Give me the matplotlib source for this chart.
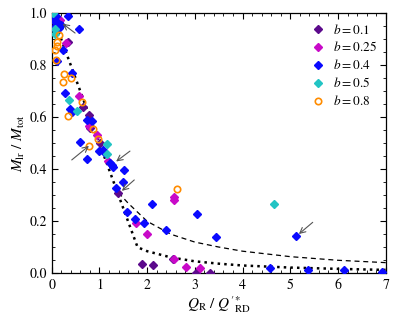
import numpy as np
import matplotlib
matplotlib.use('Agg')
import matplotlib.pyplot as plt
from matplotlib.ticker import MultipleLocator

plt.rcParams['font.family'] = 'STIXGeneral'
plt.rcParams['mathtext.fontset'] = 'stix'
plt.rcParams['font.size'] = 8

# data: (Q_R / Q'*_RD, M_lr / M_tot)
b01_x = [0.15, 0.35, 0.66, 0.79, 0.80, 1.01, 1.38, 1.89, 2.13, 2.55, 3.02, 3.32]
b01_y = [0.965, 0.89, 0.64, 0.61, 0.56, 0.50, 0.308, 0.036, 0.032, 0.054, 0.0, 0.0]

b025_x = [0.17, 0.30, 0.58, 0.79, 0.94, 1.19, 1.76, 2.00, 2.56, 2.56, 2.57, 2.82, 3.10]
b025_y = [0.975, 0.885, 0.68, 0.566, 0.53, 0.43, 0.195, 0.15, 0.295, 0.282, 0.056, 0.023, 0.019]

b04_x = [0.02, 0.05, 0.08, 0.10, 0.12, 0.04, 0.15, 0.19, 0.34, 0.58, 0.23, 0.12,
         0.42, 0.28, 0.38, 0.42, 0.73, 0.84, 0.59, 0.75, 1.00, 1.08, 1.12, 1.22,
         1.26, 1.29, 1.52, 1.50, 1.35, 1.57, 1.75, 1.93, 2.11, 2.39, 3.04, 3.44,
         5.12, 4.58, 5.38, 6.13, 6.92]
b04_y = [0.985, 0.97, 0.99, 0.95, 0.965, 0.945, 0.945, 0.955, 0.99, 0.94, 0.86, 0.815,
         0.77, 0.695, 0.63, 0.62, 0.59, 0.586, 0.506, 0.44, 0.47, 0.474, 0.462, 0.423,
         0.417, 0.41, 0.397, 0.352, 0.327, 0.235, 0.208, 0.195, 0.267, 0.167, 0.228, 0.141,
         0.143, 0.019, 0.013, 0.013, 0.006]

b05_x = [0.03, 0.07, 0.06, 0.36, 0.52, 1.15, 1.15, 4.66]
b05_y = [1.0, 0.94, 0.92, 0.666, 0.625, 0.497, 0.46, 0.265]

b08_x = [0.07, 0.12, 0.11, 0.16, 0.09, 0.26, 0.24, 0.40, 0.35, 0.64, 0.87, 0.98, 0.78, 2.62]
b08_y = [0.86, 0.89, 0.875, 0.915, 0.82, 0.765, 0.735, 0.75, 0.605, 0.66, 0.554, 0.515, 0.49, 0.323]

# model curves
dot_x = [0.0, 0.5, 1.0, 1.5, 1.8, 2.0, 2.5, 3.0, 3.5, 4.0, 5.0, 6.0, 7.0]
dot_y = [1.0, 0.75, 0.5, 0.25, 0.1, 0.085, 0.061, 0.046, 0.037, 0.030, 0.022, 0.017, 0.013]
dash_x = [1.4, 1.6, 2.0, 2.5, 3.0, 3.5, 4.0, 5.0, 6.0, 7.0]
dash_y = [0.31, 0.27, 0.20, 0.15, 0.12, 0.101, 0.085, 0.064, 0.05, 0.041]

# arrows: (head x, head y, tail x, tail y)
arrows = [(0.23, 0.96, 0.49, 0.924),
          (0.78, 0.49, 0.42, 0.436),
          (1.35, 0.43, 1.64, 0.47),
          (1.47, 0.317, 1.73, 0.359),
          (5.18, 0.151, 5.47, 0.196)]

fig = plt.figure(figsize=(3.99, 3.19), dpi=100)
ax = fig.add_axes([0.1296, 0.1433, 0.8371, 0.8150])

ax.plot(dot_x, dot_y, ':', color='k', lw=1.8, zorder=1)
ax.plot(dash_x, dash_y, '--', color='k', lw=0.9, dashes=(4, 3), zorder=1)

ms = 4.3
ax.plot(b01_x, b01_y, 'D', color='#5c0a8c', ms=ms, ls='none', label=r'$b = 0.1$', zorder=3)
ax.plot(b025_x, b025_y, 'D', color='#c80ac8', ms=ms, ls='none', label=r'$b = 0.25$', zorder=3)
ax.plot(b04_x, b04_y, 'D', color='#0a0aff', ms=ms, ls='none', label=r'$b = 0.4$', zorder=3)
ax.plot(b05_x, b05_y, 'D', color='#22c4c4', ms=ms, ls='none', label=r'$b = 0.5$', zorder=3)
ax.plot(b08_x, b08_y, 'o', mfc='none', mec='#ff8c00', mew=1.2, ms=4.6, ls='none',
        label=r'$b = 0.8$', zorder=3)

for hx, hy, tx, ty in arrows:
    ax.annotate('', xy=(hx, hy), xytext=(tx, ty),
                arrowprops=dict(arrowstyle='->', color='#555555', lw=0.8,
                                mutation_scale=10, shrinkA=0, shrinkB=0))

ax.set_xlim(0, 7)
ax.set_ylim(0, 1)
ax.xaxis.set_major_locator(MultipleLocator(1))
ax.xaxis.set_minor_locator(MultipleLocator(0.2))
ax.yaxis.set_major_locator(MultipleLocator(0.2))
ax.yaxis.set_minor_locator(MultipleLocator(0.05))
ax.yaxis.set_major_formatter(matplotlib.ticker.FormatStrFormatter('%.1f'))
ax.tick_params(which='both', direction='in', top=True, right=True, labelsize=10)
ax.tick_params(which='major', length=4, width=0.8)
ax.tick_params(which='minor', length=2, width=0.6)
for s in ax.spines.values():
    s.set_linewidth(0.9)

ax.set_xlabel(r"$Q_{\rm R}\ /\ Q'^{*}_{\rm RD}$", fontsize=11, labelpad=2)
ax.set_ylabel(r"$M_{\rm lr}\ /\ M_{\rm tot}$", fontsize=11, labelpad=2)

leg = ax.legend(loc='upper right', frameon=False, fontsize=9.5, handletextpad=0.5,
                borderaxespad=0.3, labelspacing=0.3, handlelength=1.2)

fig.savefig('out.png', dpi=100)
